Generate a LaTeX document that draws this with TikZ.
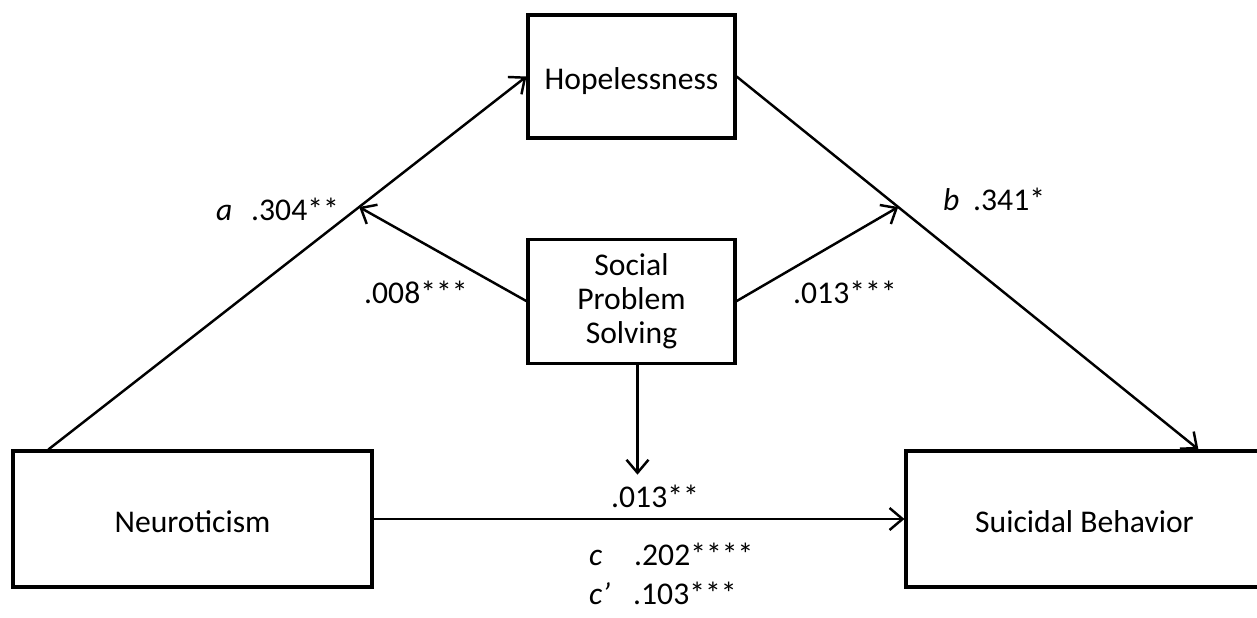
\documentclass[tikz,border=0pt]{standalone}
\usepackage{fontspec}
\setmainfont{Carlito}
\usepackage{tikz}
\usetikzlibrary{positioning,arrows.meta}

\begin{document}
\begin{tikzpicture}[%
    x=0.02cm,
    y=-0.02cm,
    ->,
    >={Straight Barb[length=2.6mm,width=4.4mm]},
    line width=1.4pt,
    node distance=1.96cm,
    factor/.style={%
      rectangle,
      draw,
      line width=1.8pt,
      align=center,
      inner sep=0pt,
      font=\fontsize{18}{19.5}\selectfont
    },
    oneline/.style={text height=0.54cm, text depth=0pt},
    coef/.style={%
      anchor=base west,
      inner sep=0pt,
      font=\fontsize{18}{19.5}\selectfont
    }
  ]
    \clip (0,0) rectangle (1257,618);

    \node[factor, oneline, minimum width=7.18cm, minimum height=2.72cm] (neuro) at (192.5,519) {Neuroticism};
    \node[factor, oneline, minimum width=7.14cm, minimum height=2.72cm] (suicide) [right=10.62cm of neuro] {Suicidal Behavior};
    \node[factor, oneline, minimum width=4.14cm, minimum height=2.46cm] (hope) at (631.5,76.5) {Hopelessness};
    \node[factor, minimum width=4.14cm, minimum height=2.48cm] (sps) [below=of hope] {Social\\Problem\\Solving};
    \coordinate (drop) at ([xshift=0.12cm,yshift=-2.2cm]sps.south);

    % paths a and b
    \draw ([xshift=0.74cm]neuro.north west) -- coordinate[pos=0.65] (ta) (hope.west);
    \draw (hope.east) -- coordinate[pos=0.35] (tb) ([xshift=5.88cm]suicide.north west);

    % moderation
    \path (sps.west) edge (ta)
          (sps.east) edge (tb)
          ([xshift=0.12cm]sps.south) edge (drop)
          (neuro.east) edge (suicide.west)
          ;

    % coefficients
    \node[coef] (la)  at (215,220) {\itshape a};
    \node[coef] (va)  at (250,220) {.304**};
    \node[coef] (vsa) at (363,303) {.008***};
    \node[coef] (lb)  at (942,211) {\itshape b};
    \node[coef] (vb)  at (972,211) {.341*};
    \node[coef] (vsb) at (792,303) {.013***};
    \node[coef] (vsc) at (610,507) {.013**};
    \node[coef] (lc)  at (588,565) {\itshape c};
    \node[coef] (vc)  at (633,565) {.202****};
    \node[coef] (lcp) at (588,604) {\itshape c{\char"27}};
    \node[coef] (vcp) at (632,604) {.103***};
  \end{tikzpicture}
\end{document}
